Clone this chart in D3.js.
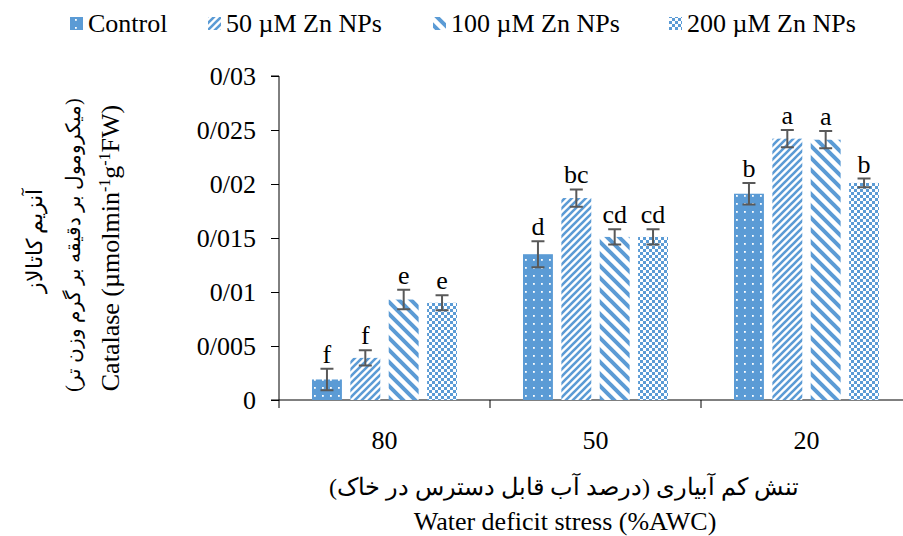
<!DOCTYPE html>
<html>
<head>
<meta charset="utf-8">
<script src="https://cdn.jsdelivr.net/npm/d3@7"></script>
<style>
  body { margin: 0; background: #fff; }
  svg { font-family: "Liberation Serif", "Times New Roman", serif; }
</style>
</head>
<body>
<svg id="chart" width="903" height="536"></svg>
<script>
const categories = ["80", "50", "20"];
const seriesNames = ["Control", "50 µM Zn NPs", "100 µM Zn NPs", "200 µM Zn NPs"];
const control = [0.0019, 0.0135, 0.0191];
const zn50 = [0.0039, 0.0187, 0.0242];
const zn100 = [0.0093, 0.0151, 0.0241];
const zn200 = [0.0090, 0.0151, 0.0201];
const errControl = [0.0010, 0.0012, 0.0010];
const errZn50 = [0.0007, 0.0008, 0.0008];
const errZn100 = [0.0009, 0.0007, 0.0008];
const errZn200 = [0.0007, 0.0007, 0.0004];
const lettersControl = ["f", "d", "b"];
const lettersZn50 = ["f", "bc", "a"];
const lettersZn100 = ["e", "cd", "a"];
const lettersZn200 = ["e", "cd", "b"];
const yTicks = [0, 0.005, 0.01, 0.015, 0.02, 0.025, 0.03];
const yTickLabels = ["0", "0/005", "0/01", "0/015", "0/02", "0/025", "0/03"];

const values = [control, zn50, zn100, zn200];
const errors = [errControl, errZn50, errZn100, errZn200];
const letters = [lettersControl, lettersZn50, lettersZn100, lettersZn200];

const blue = "#5b9bd5";
const svg = d3.select("#chart");
const defs = svg.append("defs");

// patterns for the four series
function pat(id, w, h) {
  return defs.append("pattern").attr("id", id).attr("patternUnits", "userSpaceOnUse")
    .attr("width", w).attr("height", h);
}
let p0 = pat("p0", 8, 8);
p0.append("rect").attr("width", 8).attr("height", 8).attr("fill", blue);
p0.append("rect").attr("x", 3).attr("y", 3).attr("width", 1.8).attr("height", 1.8).attr("fill", "#fff");

let p1 = pat("p1", 7, 7);
p1.append("rect").attr("width", 7).attr("height", 7).attr("fill", "#fff");
p1.append("path").attr("d", "M-1,8 L8,-1 M-2,2 L2,-2 M5,9 L9,5").attr("stroke", blue).attr("stroke-width", 2.6);

let p2 = pat("p2", 12, 12);
p2.append("rect").attr("width", 12).attr("height", 12).attr("fill", "#fff");
p2.append("path").attr("d", "M-1,-1 L13,13 M-4,8 L4,16 M8,-4 L16,4").attr("stroke", blue).attr("stroke-width", 4);

let p3 = pat("p3", 6, 6);
p3.append("rect").attr("width", 6).attr("height", 6).attr("fill", "#fff");
p3.append("rect").attr("width", 3).attr("height", 3).attr("fill", blue);
p3.append("rect").attr("x", 3).attr("y", 3).attr("width", 3).attr("height", 3).attr("fill", blue);

const fills = ["url(#p0)", "url(#p1)", "url(#p2)", "url(#p3)"];

const x0 = d3.scaleBand().domain(categories).range([279, 912]).padding(0);
const x1 = d3.scaleBand().domain(d3.range(seriesNames.length)).range([33, x0.bandwidth() - 33]).paddingInner(0.22);
const y = d3.scaleLinear().domain([0, 0.03]).range([400, 76]);

// y axis
const yAxis = svg.append("g").attr("transform", "translate(279,0)")
  .call(d3.axisLeft(y).tickValues(yTicks).tickFormat((d, i) => yTickLabels[i]).tickSize(8).tickPadding(15));
yAxis.select(".domain").attr("stroke", "#000").attr("d", `M-8,${y(0.03)}H0V${y(0) + 8}`);
yAxis.selectAll(".tick line").attr("stroke", "#000");
yAxis.selectAll(".tick text").attr("font-size", 26).attr("fill", "#000")
  .attr("font-family", "Liberation Serif");

// x axis
const xAxis = svg.append("g").attr("transform", "translate(0,400)");
xAxis.append("line").attr("x1", 271).attr("x2", 912).attr("stroke", "#000");
xAxis.selectAll(".sep").data(categories.slice(1)).join("line")
  .attr("x1", d => x0(d)).attr("x2", d => x0(d))
  .attr("y1", 0).attr("y2", 8).attr("stroke", "#000");
xAxis.selectAll(".lab").data(categories).join("text")
  .attr("x", d => x0(d) + x0.bandwidth() / 2).attr("y", 49)
  .attr("text-anchor", "middle").attr("font-size", 26).text(d => d);

// bars
const groups = svg.append("g").selectAll("g").data(categories).join("g")
  .attr("transform", d => `translate(${x0(d)},0)`);

groups.each(function (cat, ci) {
  const g = d3.select(this);
  seriesNames.forEach((s, si) => {
    const v = values[si][ci];
    const e = errors[si][ci];
    const bx = x1(si);
    const w = x1.bandwidth();
    g.append("rect").attr("x", bx).attr("y", y(v)).attr("width", w).attr("height", y(0) - y(v))
      .attr("fill", fills[si]);
    const cx = bx + w / 2;
    g.append("path")
      .attr("d", `M${cx},${y(v - e)}V${y(v + e)}M${cx - 6.5},${y(v - e)}H${cx + 6.5}M${cx - 6.5},${y(v + e)}H${cx + 6.5}`)
      .attr("stroke", "#595959").attr("stroke-width", 2).attr("fill", "none");
    g.append("text").attr("x", cx).attr("y", y(v + e) - 6)
      .attr("text-anchor", "middle").attr("font-size", 26).text(letters[si][ci]);
  });
});

// legend
const legendX = [70, 208, 433, 669];
const leg = svg.append("g");
seriesNames.forEach((s, i) => {
  leg.append("rect").attr("x", legendX[i]).attr("y", 17).attr("width", 13).attr("height", 13).attr("fill", fills[i]);
  leg.append("text").attr("x", legendX[i] + 18).attr("y", 32).attr("font-size", 26).text(s);
});

// axis titles
svg.append("text").attr("x", 564).attr("y", 495).attr("text-anchor", "middle").attr("font-size", 24)
  .attr("direction", "rtl").text("تنش کم آبیاری (درصد آب قابل دسترس در خاک)");
svg.append("text").attr("x", 565).attr("y", 530).attr("text-anchor", "middle").attr("font-size", 26)
  .text("Water deficit stress (%AWC)");

const yt = svg.append("g");
yt.append("text").attr("transform", "translate(42,241) rotate(-90)").attr("text-anchor", "middle")
  .attr("font-size", 22).attr("direction", "rtl").text("آنزیم کاتالاز");
yt.append("text").attr("transform", "translate(80,245) rotate(-90)").attr("text-anchor", "middle")
  .attr("font-size", 20).attr("direction", "rtl").text("(میکرومول بر دقیقه بر گرم وزن تر)");
const cat = yt.append("text").attr("transform", "translate(119,248) rotate(-90)").attr("text-anchor", "middle")
  .attr("font-size", 26);
cat.append("tspan").text("Catalase (µmolmin");
cat.append("tspan").attr("dy", -9).attr("font-size", 16).text("-1");
cat.append("tspan").attr("dy", 9).text("g");
cat.append("tspan").attr("dy", -9).attr("font-size", 16).text("-1");
cat.append("tspan").attr("dy", 9).text("FW)");
</script>
</body>
</html>
